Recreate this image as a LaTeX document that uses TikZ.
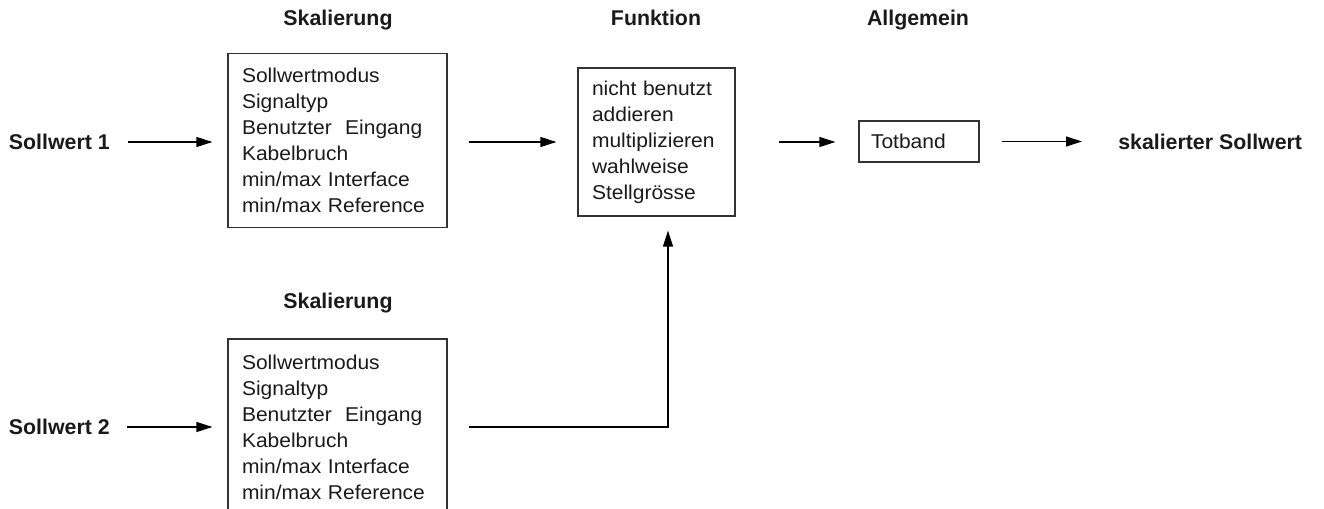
\documentclass[tikz,border=0pt]{standalone}
\usepackage{fontspec}
\setmainfont{Liberation Sans}
\newfontfamily\boxfont{Liberation Sans}[FakeStretch=1.05]
\usetikzlibrary{arrows.meta}
\definecolor{ink}{HTML}{1A1A1A}
\definecolor{frame}{HTML}{333333}
\tikzset{
  box/.style={draw=frame, line width=0.9pt, rectangle, align=left, text=ink,
    font=\boxfont\fontsize{15pt}{19.5pt}\selectfont, inner xsep=10.5pt, inner ysep=0pt},
  lbl/.style={inner sep=0pt, text=ink, font=\fontsize{16pt}{19pt}\selectfont\bfseries},
  ttl/.style={lbl, anchor=base},
  arr/.style={draw=black, line width=0.9pt, -{Triangle[length=12pt,width=7.5pt]}},
}
\begin{document}
\begin{tikzpicture}[x=0.75pt, y=-0.75pt]
\useasboundingbox (0,0) rectangle (1324,509);
% titles
\node[ttl] (t1) at (338,26) {Skalierung};
\node[ttl] (t2) at (656,26) {Funktion};
\node[ttl] (t3) at (918,26) {Allgemein};
\node[ttl] (t4) at (338,309) {Skalierung};
% inputs / output labels
\node[lbl, anchor=east] (s1) at (110,142) {Sollwert 1};
\node[lbl, anchor=east] (s2) at (110,427) {Sollwert 2};
\node[lbl, anchor=west] (out) at (1118,142) {skalierter Sollwert};
% boxes
\node[box, minimum width=164.25pt, minimum height=130.5pt, text width=143.25pt] (b1) at (337.5,140.5)
  {Sollwertmodus\\Signaltyp\\Benutzter\ \ Eingang\\Kabelbruch\\min/max Interface\\min/max Reference};
\node[box, minimum width=164.25pt, minimum height=132pt, text width=143.25pt] (b2) at (337.5,427)
  {Sollwertmodus\\Signaltyp\\Benutzter\ \ Eingang\\Kabelbruch\\min/max Interface\\min/max Reference};
\node[box, minimum width=117.75pt, minimum height=111pt, text width=96.75pt] (fn) at (656.5,142)
  {nicht benutzt\\addieren\\multiplizieren\\wahlweise\\Stellgrösse};
\node[box, minimum width=81pt, minimum height=30.75pt, text width=72pt, inner xsep=9pt] (tb) at (919,141.5)
  {Totband};
% connectors
\draw[arr, shorten <=13.5pt, shorten >=11.25pt] (s1.east) -- (s1.east -| b1.west);
\draw[arr, shorten <=12.75pt, shorten >=11.25pt] (s2.east) -- (s2.east -| b2.west);
\draw[arr, shorten <=15.75pt, shorten >=15.75pt] (b1.east |- fn.west) -- (fn.west);
\draw[arr, shorten <=32.25pt, shorten >=17.25pt] (fn.east) -- (fn.east -| tb.west);
\draw[arr, shorten <=16.5pt, shorten >=27pt] (tb.east) -- (tb.east -| out.west);
\coordinate (bend) at (668,427);
\draw[arr, shorten >=10.5pt] ([xshift=15.75pt]b2.east |- bend) -- (bend) -- (bend |- fn.south);
\end{tikzpicture}
\end{document}
